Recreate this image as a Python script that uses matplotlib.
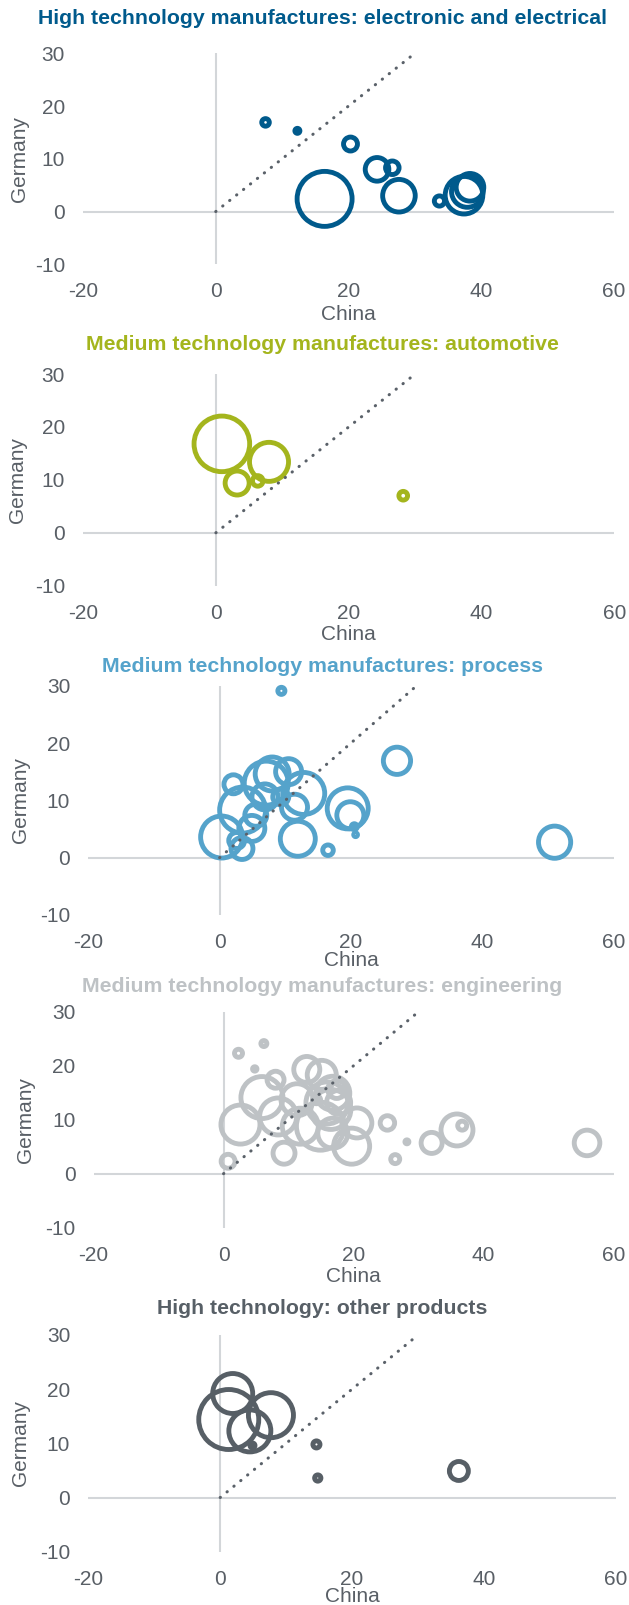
import numpy as np
import matplotlib.pyplot as plt

plt.rcParams["font.family"] = ["Liberation Sans", "DejaVu Sans"]
plt.rcParams["axes.unicode_minus"] = False

DPI = 100
W, H = 629, 1605

# ── data: (China, Germany, bubble value) per product group ───────────────
elec_china   = [7.5, 12.3, 20.3, 24.3, 26.6, 16.4, 27.6, 33.7, 37.4, 38.3, 37.9]
elec_germany = [16.9, 15.3, 12.8, 8.0, 8.3, 2.4, 3.0, 2.0, 3.1, 4.6, 3.8]
elec_value   = [1.6, 0.7, 5.4, 15.5, 5.1, 84.0, 29.5, 2.9, 39.3, 21.2, 27.7]

auto_china   = [0.9, 8.0, 3.2, 6.3, 28.2]
auto_germany = [16.8, 13.4, 9.4, 9.8, 7.0]
auto_value   = [85.9, 42.3, 16.0, 3.1, 2.1]

proc_china   = [9.4, 27.0, 51.0, 16.5, 19.5, 19.9, 20.5, 20.7, 11.9, 12.8, 11.4,
                10.5, 9.3, 7.1, 8.0, 6.9, 5.5, 4.9, 3.5, 2.1, 2.6, 3.4, 0.3]
proc_germany = [29.1, 16.9, 2.7, 1.3, 8.6, 7.4, 5.4, 4.0, 3.3, 11.2, 8.8,
                15.0, 10.6, 13.0, 14.6, 10.6, 7.4, 5.1, 8.3, 12.8, 3.0, 1.6, 3.6]
proc_value   = [1.4, 20.6, 28.8, 3.1, 46.7, 20.3, 1.0, 0.4, 34.0, 49.0, 18.8,
                18.8, 7.1, 53.8, 32.1, 18.8, 13.4, 18.8, 58.8, 10.0, 7.1, 13.4, 49.0]

eng_china   = [2.3, 6.2, 4.8, 2.6, 5.9, 8.0, 8.4, 9.3, 0.7, 12.8, 15.1, 11.3,
               11.8, 14.9, 15.9, 16.8, 17.4, 17.7, 16.5, 16.8, 19.7, 20.5, 14.3,
               25.2, 28.2, 26.4, 32.0, 35.9, 36.7, 55.9]
eng_germany = [22.3, 24.1, 19.4, 9.1, 14.1, 17.4, 10.6, 3.8, 2.3, 19.3, 18.3, 13.7,
               8.8, 8.8, 13.1, 14.9, 15.6, 13.2, 11.9, 7.5, 5.1, 9.4, 13.7,
               9.4, 5.9, 2.7, 5.7, 8.1, 8.9, 5.7]
eng_value   = [1.8, 1.0, 0.54, 42.3, 49.0, 8.0, 38.0, 13.4, 5.4, 18.8, 23.4, 28.4,
               36.0, 64.0, 49.0, 32.1, 9.0, 16.0, 44.4, 25.0, 36.0, 25.0, 1.8,
               5.8, 0.44, 2.25, 12.3, 28.4, 2.25, 18.2]

other_china   = [1.3, 1.9, 7.7, 4.5, 4.9, 14.6, 14.8, 36.2]
other_germany = [14.4, 19.2, 15.2, 12.3, 9.6, 9.8, 3.6, 4.9]
other_value   = [100.0, 44.4, 56.3, 49.0, 0.7, 1.4, 1.1, 10.0]

x_ticks = [-20, 0, 20, 40, 60]
y_ticks = [-10, 0, 10, 20, 30]

panels = [
    ("High technology manufactures: electronic and electrical", "#005A8C",
     elec_china, elec_germany, elec_value),
    ("Medium technology manufactures: automotive", "#A4B51D",
     auto_china, auto_germany, auto_value),
    ("Medium technology manufactures: process", "#55A3CB",
     proc_china, proc_germany, proc_value),
    ("Medium technology manufactures: engineering", "#BEC2C5",
     eng_china, eng_germany, eng_value),
    ("High technology: other products", "#575F66",
     other_china, other_germany, other_value),
]

# plot boxes in pixels: left, right, top, bottom, title y, xlabel y, ylabel x
boxes = [
    (83.0, 614.0, 53.3, 264.3, 18.0, 315.0, 19.0),
    (83.0, 614.5, 374.0, 585.7, 345.0, 635.0, 18.0),
    (88.3, 613.7, 685.7, 915.0, 666.0, 961.0, 20.5),
    (93.5, 613.7, 1011.7, 1227.7, 986.7, 1277.0, 25.0),
    (88.3, 615.8, 1335.0, 1551.7, 1308.3, 1596.5, 20.5),
]

TEXT = "#595F66"
AXIS_LINE = "#D3D6D9"
DIAG = "#5A6169"
# bubble area ∝ value; radius in px = 3 * sqrt(value)
SIZE_SCALE = (2 * 3.0 * 72 / DPI) ** 2

fig = plt.figure(figsize=(W / DPI, H / DPI), dpi=DPI)

for (title, color, cx, cy, val), (l, r, t, b, ty, xly, ylx) in zip(panels, boxes):
    ax = fig.add_axes([l / W, 1 - b / H, (r - l) / W, (b - t) / H])
    ax.set_xlim(-20, 60)
    ax.set_ylim(-10, 30)
    for s in ax.spines.values():
        s.set_visible(False)
    ax.set_xticks(x_ticks)
    ax.set_yticks(y_ticks)
    ax.tick_params(length=0, labelsize=15, labelcolor=TEXT, pad=13)

    ax.axhline(0, color=AXIS_LINE, lw=1.5, zorder=1)
    ax.axvline(0, color=AXIS_LINE, lw=1.5, zorder=1)

    ax.scatter(cx, cy, s=np.array(val) * SIZE_SCALE, facecolors="none",
               edgecolors=color, linewidths=3.5, zorder=2, clip_on=False)

    ax.plot([0, 30], [0, 30], color=DIAG, lw=2.2, linestyle=(0, (0.1, 2.8)),
            dash_capstyle="round", zorder=3)

    fig.text(322 / W, 1 - ty / H, title, ha="center", va="center",
             fontsize=15.3, fontweight="bold", color=color)
    fig.text((l + r) / 2 / W, 1 - xly / H, "China", ha="center", va="center",
             fontsize=15, color=TEXT)
    fig.text(ylx / W, 1 - (t + b) / 2 / H, "Germany", ha="center", va="center",
             rotation=90, fontsize=15, color=TEXT)

fig.savefig("out.png", dpi=DPI)
